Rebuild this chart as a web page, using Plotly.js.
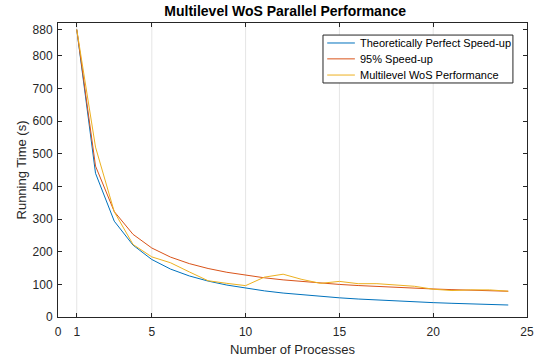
<!DOCTYPE html>
<html><head><meta charset="utf-8">
<script src="https://cdn.plot.ly/plotly-3.0.1.min.js"></script>
<style>html,body{margin:0;padding:0;background:#fff;}#chart{width:535px;height:361px;}</style>
</head><body><div id="chart"></div>
<script>
var processes = [1,2,3,4,5,6,7,8,9,10,11,12,13,14,15,16,17,18,19,20,21,22,23,24];
var perfect = [880,440,293.3,220,176,146.7,125.7,110,97.8,88,80,73.3,67.7,62.9,58.7,55,51.8,48.9,46.3,44,41.9,40,38.3,36.7];
var speedup95 = [880,462,322.7,253,211.2,183.3,163.4,148.5,136.9,127.6,120,113.7,108.3,103.7,99.7,96.3,93.2,90.4,88,85.8,83.8,82,80.3,78.8];
var wos = [880,520,322,222,184,166,138,111,103,96,122,131,115,103,109,102,102,98,94,85,81,83,83,79];
var seriesNames = ['Theoretically Perfect Speed-up','95% Speed-up','Multilevel WoS Performance'];
var xTicks = [0,1,5,10,15,20,25];
var yTicks = [0,100,200,300,400,500,600,700,800,880];

var colors = ['#0072BD','#D95319','#EDB120'];
var series = [perfect, speedup95, wos];
var traces = series.map(function(s,i){
  return {x: processes, y: s, type:'scatter', mode:'lines', name: seriesNames[i],
          line:{color: colors[i], width:1}};
});
// vertical gridlines at ticks 1..20
var shapes = [1,5,10,15,20].map(function(v){
  return {type:'line', xref:'x', yref:'paper', x0:v, x1:v, y0:0, y1:1, layer:'below',
          line:{color:'#e5e5e5', width:1}};
});
// legend box drawn manually (MATLAB style)
shapes.push({type:'rect', xref:'paper', yref:'paper', x0:0.565, x1:0.970, y0:0.796, y1:0.959,
             fillcolor:'#fff', line:{color:'#262626', width:1}, layer:'above'});
var rowY = [0.932, 0.878, 0.823];
var annotations = [];
seriesNames.forEach(function(n,i){
  shapes.push({type:'line', xref:'paper', yref:'paper', x0:0.574, x1:0.633, y0:rowY[i], y1:rowY[i],
               line:{color:colors[i], width:1}, layer:'above'});
  annotations.push({xref:'paper', yref:'paper', x:0.640, y:rowY[i], xanchor:'left', yanchor:'middle',
                    text:n, showarrow:false, font:{size:11, color:'#000'}});
});
var font = {family:'Liberation Sans, Arial, sans-serif', color:'#262626'};
var layout = {
  width:535, height:361,
  margin:{l:58, r:8, t:23, b:44},
  paper_bgcolor:'#fff', plot_bgcolor:'#fff',
  font: {family: font.family, color: font.color, size: 11},
  title:{text:'<b>Multilevel WoS Parallel Performance</b>', font:{size:14, color:'#000', family:font.family}, x:0.533, xref:'container', xanchor:'center', y:0.968, yanchor:'middle'},
  xaxis:{range:[0,25], tickvals:xTicks, ticktext:xTicks.map(String), showgrid:false, zeroline:false,
         showline:true, mirror:'ticks', linecolor:'#262626', linewidth:1, ticks:'inside', ticklen:4, tickcolor:'#262626',
         tickfont:{size:12, color:'#262626'}, ticklabelstandoff:4,
         title:{text:'Number of Processes', font:{size:13, color:'#262626'}, standoff:6}},
  yaxis:{range:[0,900], tickvals:yTicks, ticktext:yTicks.map(String), showgrid:false, zeroline:false,
         showline:true, mirror:'ticks', linecolor:'#262626', linewidth:1, ticks:'inside', ticklen:4, tickcolor:'#262626',
         tickfont:{size:12, color:'#262626'}, ticklabelstandoff:2,
         title:{text:'Running Time (s)', font:{size:13, color:'#262626'}, standoff:3}},
  shapes: shapes,
  annotations: annotations,
  showlegend:false
};
Plotly.newPlot('chart', traces, layout, {displayModeBar:false, staticPlot:true});
</script></body></html>
